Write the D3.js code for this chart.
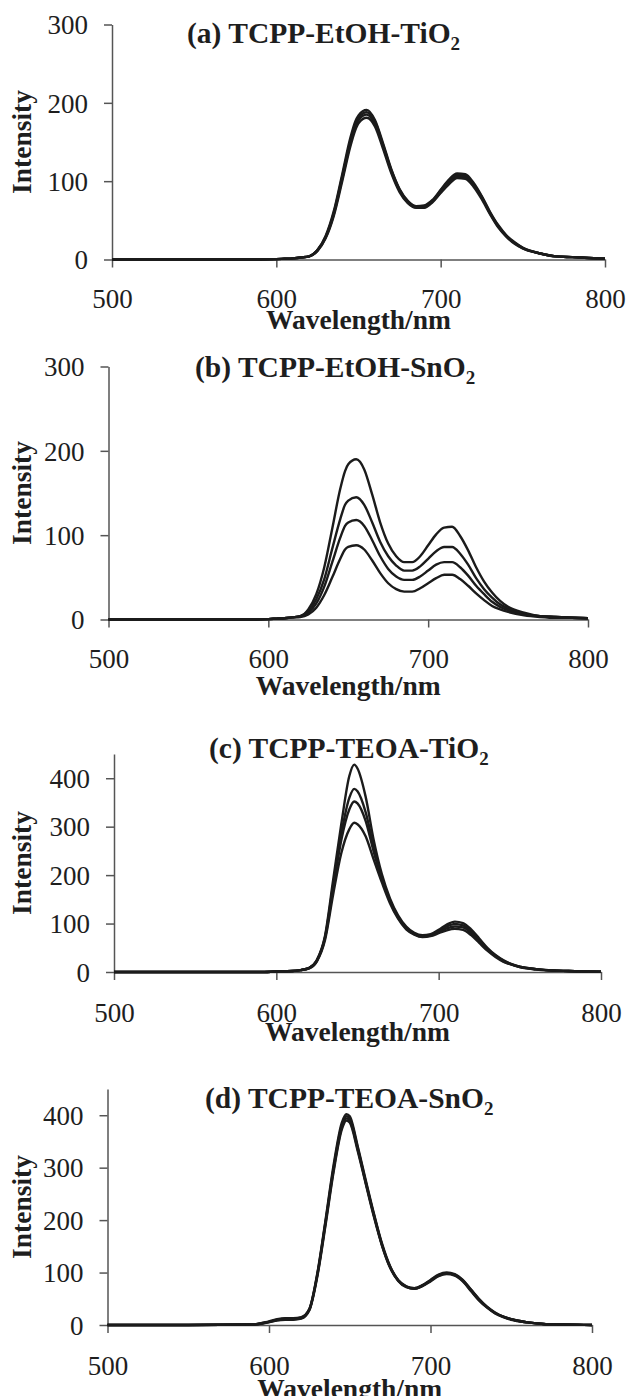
<!DOCTYPE html>
<html>
<head>
<meta charset="utf-8">
<script src="https://cdn.jsdelivr.net/npm/d3@7"></script>
<style>
  body { margin: 0; background: #fff; }
  text { font-family: "Liberation Serif", "Times New Roman", serif; fill: #1e1e1e; }
  .tick text { font-size: 27px; }
  .label { font-size: 27.5px; font-weight: bold; }
  .title { font-size: 29.5px; font-weight: bold; }
  .domain, .tick line { stroke: #555; stroke-width: 1.5; }
  .curve { fill: none; stroke: #1b1b1b; stroke-width: 2.4; }
</style>
</head>
<body>
<div id="chart"></div>
<script>
// wavelength grid (nm) shared by all spectra
var wavelengths = [500, 550, 590, 600, 605, 610, 615, 620, 625, 630, 635, 640, 645, 648, 650, 655, 660, 665, 670, 675,
                   680, 685, 690, 695, 700, 705, 710, 715, 720, 725, 730, 735, 740, 745, 750, 760, 770, 780, 790, 800];

// (a) TCPP-EtOH-TiO2
var curvesA = [
  [0, 0, 0, 0.5, 1, 1.5, 2.5, 4, 12, 30, 62, 108, 155, 176, 184, 191, 178, 148, 115, 90, 75, 68, 69, 76, 89, 102, 110, 109, 98, 81, 61, 44, 31, 22, 15, 8, 4, 3, 2, 1],
  [0, 0, 0, 0.5, 1, 1.5, 2.5, 4, 12, 29, 60, 105, 151, 172, 181, 188, 176, 146, 114, 89, 74, 68, 68, 75, 88, 100, 108, 107, 96, 80, 60, 43, 30, 21, 15, 8, 4, 3, 2, 1],
  [0, 0, 0, 0.5, 1, 1.5, 2.5, 4, 11, 28, 58, 102, 148, 169, 178, 185, 173, 144, 112, 88, 73, 67, 67, 74, 86, 98, 106, 105, 95, 79, 59, 42, 30, 21, 14, 8, 4, 3, 2, 1],
  [0, 0, 0, 0.5, 1, 1.5, 2.5, 4, 11, 27, 56, 99, 144, 165, 174, 181, 170, 141, 110, 86, 72, 66, 66, 73, 85, 96, 104, 103, 93, 77, 58, 41, 29, 20, 14, 8, 4, 3, 2, 1]
];

// (b) TCPP-EtOH-SnO2
var curvesB = [
  [0, 0, 0, 0.5, 1, 1.5, 2.5, 4, 12, 30, 62, 108, 155, 176, 184, 190, 178, 148, 115, 90, 75, 68, 68, 75, 88, 101, 109, 110, 99, 82, 62, 45, 32, 22, 15, 8, 4, 3, 2, 1.5],
  [0, 0, 0, 0.5, 1, 1.5, 2.5, 4, 10, 24, 48, 84, 119, 136, 141, 145, 136, 115, 92, 75, 64, 58, 58, 63, 72, 81, 86, 86, 78, 65, 49, 36, 26, 18, 13, 7, 4, 3, 2, 1.5],
  [0, 0, 0, 0.5, 1, 1.5, 2.5, 3.5, 8, 19, 39, 68, 97, 111, 115, 118, 111, 94, 75, 60, 51, 47, 47, 51, 58, 65, 68, 68, 62, 52, 40, 30, 21, 15, 11, 6, 4, 3, 2, 1.5],
  [0, 0, 0, 0.5, 1, 1.5, 2.5, 3, 6, 14, 29, 50, 72, 83, 86, 88, 83, 70, 55, 43, 36, 33, 33, 37, 43, 49, 53, 53, 48, 40, 31, 23, 16, 12, 9, 5, 3, 2, 2, 1.5]
];

// (c) TCPP-TEOA-TiO2
var curvesC = [
  [0, 0, 0, 1, 1.5, 2, 4, 8, 25, 75, 190, 305, 405, 428, 420, 362, 272, 202, 152, 117, 94, 81, 76, 78, 87, 98, 104, 101, 88, 69, 50, 35, 24, 16, 11, 6, 3, 2, 1, 0.5],
  [0, 0, 0, 1, 1.5, 2, 4, 8, 24, 72, 180, 285, 360, 378, 373, 330, 258, 196, 148, 114, 92, 79, 74, 76, 84, 94, 99, 96, 84, 66, 48, 34, 23, 16, 11, 6, 3, 2, 1, 0.5],
  [0, 0, 0, 1, 1.5, 2, 4, 8, 23, 70, 172, 272, 336, 352, 348, 312, 248, 192, 146, 112, 90, 78, 73, 75, 82, 90, 94, 92, 80, 63, 46, 33, 22, 15, 10, 6, 3, 2, 1, 0.5],
  [0, 0, 0, 1, 1.5, 2, 4, 7, 22, 66, 160, 245, 295, 308, 305, 280, 232, 185, 142, 110, 88, 77, 72, 74, 80, 86, 89, 87, 76, 60, 44, 31, 21, 15, 10, 5, 3, 2, 1, 0.5]
];

// (d) TCPP-TEOA-SnO2
var curvesD = [
  [0, 0, 1, 6, 10, 12, 12, 14, 30, 100, 200, 305, 385, 402, 398, 340, 275, 212, 155, 112, 86, 74, 70, 76, 86, 96, 100, 97, 86, 68, 50, 35, 24, 16, 11, 5, 2, 1, 0.5, 0],
  [0, 0, 1, 7, 11, 13, 13, 15, 31, 98, 197, 300, 380, 398, 394, 337, 272, 210, 153, 111, 85, 73, 70, 75, 85, 95, 99, 96, 85, 67, 49, 34, 23, 16, 11, 5, 2, 1, 0.5, 0],
  [0, 0, 1, 5, 9, 11, 11, 13, 29, 96, 194, 296, 376, 394, 390, 334, 270, 208, 152, 110, 85, 73, 69, 75, 84, 94, 98, 95, 84, 66, 48, 34, 23, 16, 11, 5, 2, 1, 0.5, 0],
  [0, 0, 1, 6, 9, 10, 10, 12, 28, 94, 190, 292, 372, 390, 386, 331, 268, 206, 151, 109, 84, 72, 69, 74, 83, 93, 97, 94, 83, 65, 47, 33, 22, 15, 10, 5, 2, 1, 0.5, 0]
];

var xTicks = [500, 600, 700, 800];
var yTicksEtOH = [0, 100, 200, 300];
var yTicksTEOA = [0, 100, 200, 300, 400];
var titles = ["(a) TCPP-EtOH-TiO", "(b) TCPP-EtOH-SnO", "(c) TCPP-TEOA-TiO", "(d) TCPP-TEOA-SnO"];

// panel layout in page pixels
var panels = [
  {curves: curvesA, yMax: 300, yTicks: yTicksEtOH, x0: 112, x1: 605, y0: 259.5, y1: 24.5, titleX: 187, titleY: 43, tickY: 308, labelY: 329},
  {curves: curvesB, yMax: 300, yTicks: yTicksEtOH, x0: 108.5, x1: 588, y0: 619.5, y1: 366.5, titleX: 195, titleY: 377, tickY: 668, labelY: 695},
  {curves: curvesC, yMax: 450, yTicks: yTicksTEOA, x0: 114, x1: 601, y0: 972, y1: 754, titleX: 209, titleY: 758, tickY: 1022, labelY: 1041},
  {curves: curvesD, yMax: 450, yTicks: yTicksTEOA, x0: 107.5, x1: 592, y0: 1325, y1: 1089, titleX: 205, titleY: 1108, tickY: 1375, labelY: 1398}
];

var svg = d3.select("#chart").append("svg")
    .attr("width", 628)
    .attr("height", 1396);

panels.forEach(function(p, i) {
  var x = d3.scaleLinear().domain([500, 800]).range([p.x0, p.x1]);
  var y = d3.scaleLinear().domain([0, p.yMax]).range([p.y0, p.y1]);

  // y axis
  var gy = svg.append("g")
      .attr("transform", "translate(" + p.x0 + ",0)")
      .call(d3.axisLeft(y).tickValues(p.yTicks).tickSize(8).tickSizeOuter(0).tickPadding(16));
  gy.selectAll(".tick text").attr("dy", "0.34em");

  // x axis
  var gx = svg.append("g")
      .attr("transform", "translate(0," + p.y0 + ")")
      .call(d3.axisBottom(x).tickValues(xTicks).tickSize(8).tickSizeOuter(0).tickFormat(d3.format("d")));
  gx.selectAll(".tick text").attr("y", p.tickY - p.y0).attr("dy", 0);

  // spectra
  var line = d3.line()
      .x(function(d, j) { return x(wavelengths[j]); })
      .y(function(d) { return y(d); })
      .curve(d3.curveMonotoneX);

  svg.selectAll(".curve" + i)
      .data(p.curves)
    .enter().append("path")
      .attr("class", "curve")
      .attr("d", line);

  // title with subscript
  var t = svg.append("text")
      .attr("class", "title")
      .attr("x", p.titleX)
      .attr("y", p.titleY)
      .text(titles[i]);
  t.append("tspan")
      .attr("dy", 7)
      .style("font-size", "19px")
      .text("2");

  // axis labels
  svg.append("text")
      .attr("class", "label")
      .attr("x", (p.x0 + p.x1) / 2)
      .attr("y", p.labelY)
      .attr("text-anchor", "middle")
      .text("Wavelength/nm");

  svg.append("text")
      .attr("class", "label")
      .attr("transform", "translate(31," + ((p.y0 + p.y1) / 2) + ") rotate(-90)")
      .attr("text-anchor", "middle")
      .text("Intensity");
});
</script>
</body>
</html>
